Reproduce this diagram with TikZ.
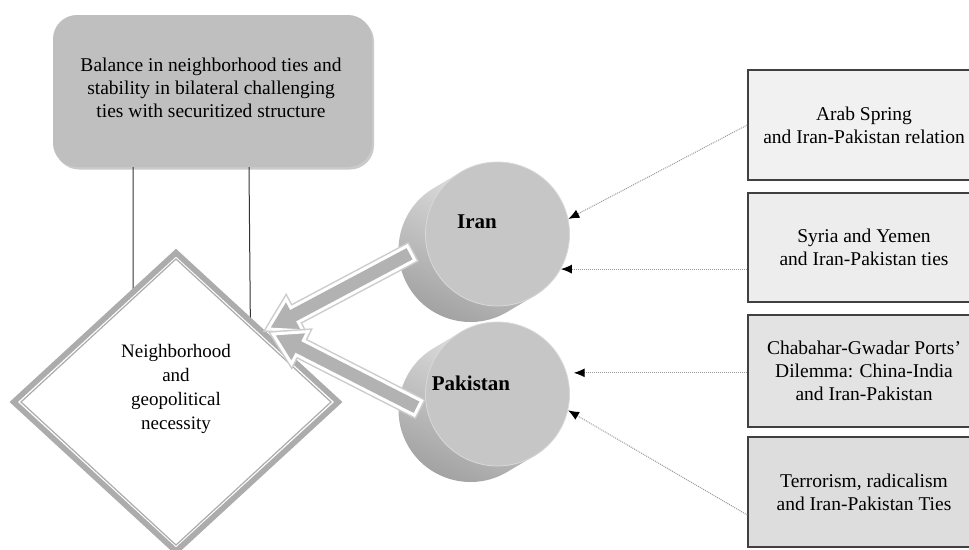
\documentclass[tikz,border=0pt]{standalone}
\usepackage{fontspec}
\setmainfont{Liberation Serif}
\usetikzlibrary{shapes.geometric,arrows.meta,calc,shadows}
\begin{document}
\begin{tikzpicture}[x=1pt,y=-1pt,
  txt/.style={font=\fontsize{19.5}{23}\selectfont, align=center},
  sidebox/.style={rectangle, draw=black!75, line width=1.5pt, minimum width=232pt, inner sep=0pt, txt},
  dotarrow/.style={gray!80, densely dotted, line width=1pt, -{Latex[black,length=11pt,width=9pt]}},
  discside/.style={top color=gray!12, bottom color=gray!75, shading angle=-25},
  discface/.style={circle, minimum size=144pt, inner sep=0pt, fill=gray!45, draw=gray!30, line width=0.8pt},
  fatouter/.style={draw=gray!40, line width=6pt, line join=miter},
  fatinner/.style={draw=white, line width=3pt, fill=gray!60, line join=miter},
  disclabel/.style={font=\fontsize{21}{24}\selectfont\bfseries}
]
\useasboundingbox (0,0) rectangle (969,549);

% top rounded box
\node[rectangle, rounded corners=24pt, fill=gray!50, minimum width=319pt, minimum height=152pt,
      drop shadow={shadow xshift=2pt, shadow yshift=-2.5pt, fill=gray!70, opacity=0.6}] (bal) at (212.5,91) {};
\node[txt] (baltext) at (211,87.5)
  {Balance in neighborhood ties and\\stability in bilateral challenging\\ties with securitized structure};

% diamond
\node[diamond, draw=gray!65, line width=4pt, minimum width=324pt, minimum height=298pt, inner sep=0pt, fill=white] (hub) at (176,402) {};

% connecting lines
\draw[black!80, line width=1pt] (bal.south -| 133,0) -- (hub.111.5);
\draw[black!80, line width=1pt] (bal.south -| 249,0) -- (hub.48.3);
\draw[gray!65, line width=4pt] ($(hub.north)+(0,0.5)$) -- ($(hub.west)+(0.5,0)$) -- ($(hub.south)+(0,-0.5)$) -- ($(hub.east)+(-0.5,0)$) -- cycle;
\draw[gray!65, line width=1.2pt] ($(hub.north)+(0,8)$) -- ($(hub.east)+(-9,0)$) -- ($(hub.south)+(0,-8)$) -- ($(hub.west)+(9,0)$) -- cycle;
\node[txt, font=\fontsize{19}{24}\selectfont] (hubtext) at (176,389) {Neighborhood\\and\\geopolitical\\necessity};

% discs
\coordinate (ic) at (497.5,234);
\coordinate (pc) at (497.5,394);
\shade[discside] ($(ic)+(-27,16)+(239.35:72)$) arc[start angle=239.35,end angle=59.35,radius=72]
   -- ($(ic)+(59.35:72)$) arc[start angle=59.35,end angle=-120.65,radius=72] -- cycle;
\node[discface] (iran) at (ic) {};
\shade[discside] ($(pc)+(-27,16)+(239.35:72)$) arc[start angle=239.35,end angle=59.35,radius=72]
   -- ($(pc)+(59.35:72)$) arc[start angle=59.35,end angle=-120.65,radius=72] -- cycle;
\node[discface] (pak) at (pc) {};
\node[disclabel] (irant) at (477,222) {Iran};
\node[disclabel] (pakt) at (471,383) {Pakistan};

% right boxes
\node[sidebox, fill=gray!11, minimum height=110pt] (b1) at (864,125) {Arab Spring\\and Iran-Pakistan relation};
\node[sidebox, fill=gray!14, minimum height=109pt] (b2) at (864,247.5) {Syria and Yemen\\and Iran-Pakistan ties};
\node[sidebox, fill=gray!22, minimum height=112pt] (b3) at (864,371) {Chabahar-Gwadar Ports'\\Dilemma: China-India\\and Iran-Pakistan};
\node[sidebox, fill=gray!27, minimum height=110pt] (b4) at (864,492) {Terrorism, radicalism\\and Iran-Pakistan Ties};

% dotted arrows
\draw[dotarrow] (b1.west) -- (iran.12);
\draw[dotarrow] (b2.west |- iran.-29) -- (iran.-29);
\draw[dotarrow, shorten >=7pt] (b3.west |- pak.17) -- (pak.17);
\draw[dotarrow] ($(b4.west)+(0,23)$) -- (pak.-13);

% block arrows
\coordinate (ia) at (411,253);
\coordinate (ib) at (268,329);
\coordinate (ih) at ($(ib)!30pt!(ia)$);
\coordinate (pa) at (418,408);
\coordinate (pb) at (273,334);
\coordinate (ph) at ($(pb)!30pt!(pa)$);
\foreach \s in {fatouter,fatinner}{
  \path[\s] ($(ia)!8pt!90:(ib)$) -- ($(ih)!8pt!90:(ib)$) -- ($(ih)!18pt!90:(ib)$) -- (ib)
     -- ($(ih)!18pt!-90:(ib)$) -- ($(ih)!8pt!-90:(ib)$) -- ($(ia)!8pt!-90:(ib)$) -- cycle;
}
\foreach \s in {fatouter,fatinner}{
  \path[\s] ($(pa)!8pt!90:(pb)$) -- ($(ph)!8pt!90:(pb)$) -- ($(ph)!18pt!90:(pb)$) -- (pb)
     -- ($(ph)!18pt!-90:(pb)$) -- ($(ph)!8pt!-90:(pb)$) -- ($(pa)!8pt!-90:(pb)$) -- cycle;
}
\end{tikzpicture}
\end{document}
